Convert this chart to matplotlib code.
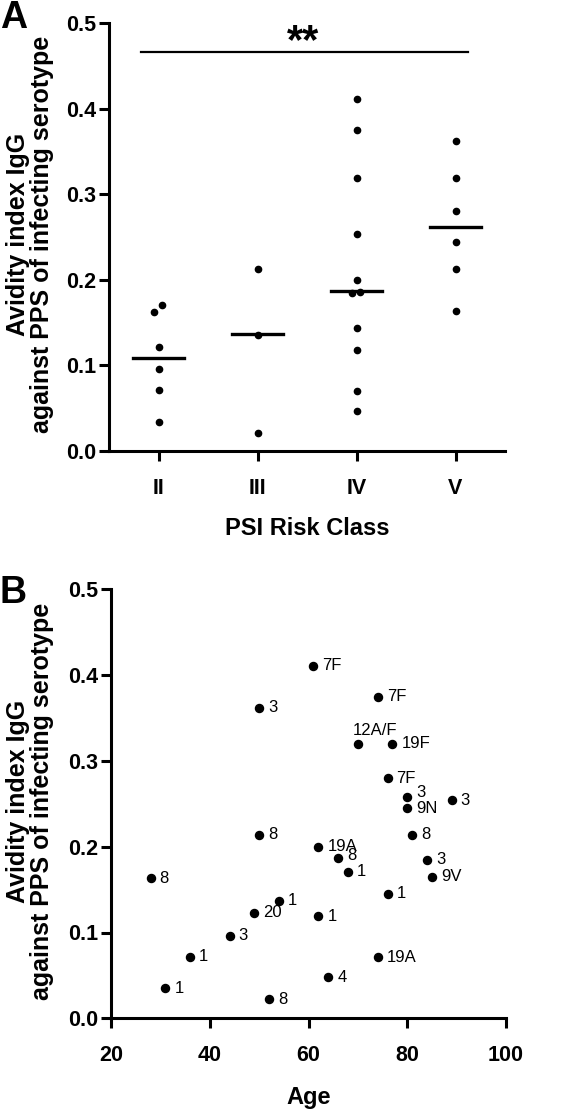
import matplotlib
matplotlib.use("Agg")
import matplotlib.pyplot as plt
import numpy as np

plt.rcParams['font.family'] = ['Liberation Sans', 'DejaVu Sans']

# Panel A data: avidity index by PSI risk class
risk_classes = ["II", "III", "IV", "V"]
avidity_II = [0.171, 0.162, 0.122, 0.096, 0.071, 0.034]
avidity_III = [0.213, 0.136, 0.021]
avidity_IV = [0.411, 0.375, 0.319, 0.254, 0.200, 0.186, 0.184, 0.144, 0.118, 0.070, 0.047]
avidity_V = [0.362, 0.319, 0.280, 0.244, 0.213, 0.164]
medians = [0.109, 0.137, 0.187, 0.262]

# Panel B data: avidity index by age, labelled with serotype
ages = [61, 74, 50, 70, 77, 76, 80, 80, 89, 50, 62, 66, 68, 81, 84, 85, 28,
        76, 54, 49, 62, 44, 36, 74, 64, 31, 52]
avidity_age = [0.411, 0.375, 0.362, 0.320, 0.320, 0.280, 0.258, 0.245, 0.254,
               0.214, 0.200, 0.187, 0.171, 0.214, 0.185, 0.165, 0.163, 0.145,
               0.137, 0.123, 0.119, 0.096, 0.072, 0.071, 0.048, 0.035, 0.022]
serotypes = ["7F", "7F", "3", "12A/F", "19F", "7F", "3", "9N", "3",
             "8", "19A", "8", "1", "8", "3", "9V", "8", "1",
             "1", "20", "1", "3", "1", "19A", "4", "1", "8"]

W, H = 566, 1110
fig = plt.figure(figsize=(W / 100, H / 100), dpi=100)

axA = fig.add_axes([109 / W, 1 - 451 / H, (505 - 109) / W, (451 - 23) / H])
axB = fig.add_axes([111 / W, 1 - 1018.3 / H, (506 - 111) / W, (1018.3 - 589.3) / H])


def style(ax):
    for s in ['top', 'right']:
        ax.spines[s].set_visible(False)
    for s in ['left', 'bottom']:
        ax.spines[s].set_linewidth(2.2)
    ax.tick_params(width=2.2, length=7.5, labelsize=15.5)
    ax.tick_params(axis='x', pad=12)
    ax.tick_params(axis='y', pad=2)
    for lab in ax.get_xticklabels() + ax.get_yticklabels():
        lab.set_fontweight('bold')
    ax.set_ylim(0, 0.5)
    ax.set_yticks([0.0, 0.1, 0.2, 0.3, 0.4, 0.5])
    ax.set_yticklabels(["0.0", "0.1", "0.2", "0.3", "0.4", "0.5"], fontweight='bold')


# Panel A
groups = [avidity_II, avidity_III, avidity_IV, avidity_V]
for i, vals in enumerate(groups):
    pos = i + 1
    vals = np.array(vals)
    xs = np.full(len(vals), float(pos))
    # small side-by-side offset for near-identical values
    for j in range(len(vals)):
        for k in range(j + 1, len(vals)):
            if abs(vals[j] - vals[k]) < 0.012:
                lo, hi = (j, k) if vals[j] < vals[k] else (k, j)
                xs[lo] = pos - 0.05
                xs[hi] = pos + 0.04
    axA.plot(xs, vals, 'o', color='black', ms=4.5, clip_on=False, zorder=3)
    axA.plot([pos - 0.26, pos + 0.26], [medians[i], medians[i]], color='black', lw=2.4, zorder=4)

axA.set_xlim(0.5, 4.5)
axA.set_xticks(range(1, 5))
axA.set_xticklabels(risk_classes)
style(axA)
axA.set_xlabel("PSI Risk Class", fontsize=17, fontweight='bold', labelpad=13)
axA.plot([0.82, 4.13], [0.466, 0.466], color='black', lw=1.6, clip_on=False)
axA.text(2.46, 0.478, "**", fontsize=30, fontweight='bold', ha='center', va='center')

# Panel B
axB.plot(ages, avidity_age, 'o', color='black', ms=5.8, clip_on=False, zorder=3)
for a, v, s in zip(ages, avidity_age, serotypes):
    if s == "12A/F":
        axB.annotate(s, (a, v), textcoords='offset points', xytext=(-4, 4),
                     ha='left', va='bottom', fontsize=12)
    elif s == "3" and a == 80:
        axB.annotate(s, (a, v), textcoords='offset points', xytext=(6.5, 3),
                     ha='left', va='center', fontsize=12)
    elif s == "8" and a == 66:
        axB.annotate(s, (a, v), textcoords='offset points', xytext=(6.5, 1.5),
                     ha='left', va='center', fontsize=12)
    else:
        axB.annotate(s, (a, v), textcoords='offset points', xytext=(6.5, 0),
                     ha='left', va='center', fontsize=12)
axB.set_xlim(20, 100)
axB.set_xticks([20, 40, 60, 80, 100])
axB.set_xticklabels(["20", "40", "60", "80", "100"])
style(axB)
axB.set_xlabel("Age", fontsize=17, fontweight='bold', labelpad=14)

# two-line y labels, one text per line
for yc in [234, 801]:
    fig.text(18 / W, 1 - yc / H, "Avidity index IgG", rotation=90, ha='center',
             va='center', fontsize=18, fontweight='bold')
    fig.text(42 / W, 1 - yc / H, "against PPS of infecting serotype", rotation=90,
             ha='center', va='center', fontsize=18, fontweight='bold')

fig.text(0 / W, 1 - 28 / H, "A", fontsize=27, fontweight='bold', ha='left', va='baseline')
fig.text(0 / W, 1 - 603 / H, "B", fontsize=27, fontweight='bold', ha='left', va='baseline')

fig.savefig("out.png", dpi=100)
